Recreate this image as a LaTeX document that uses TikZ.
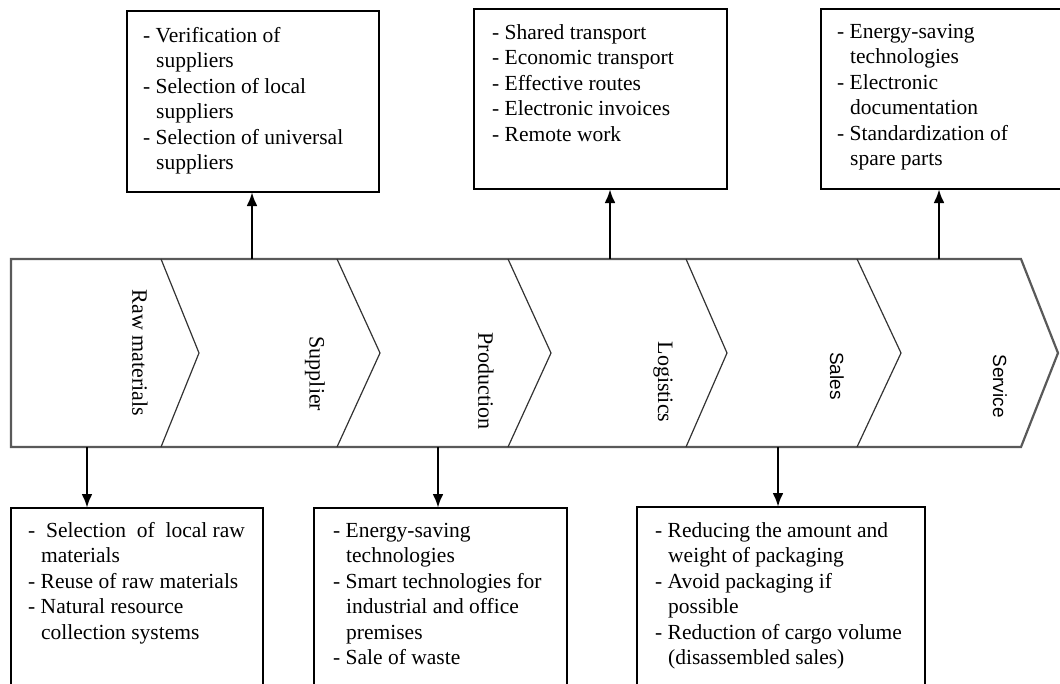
\documentclass[tikz,border=0pt]{standalone}
\usepackage{fontspec}
\setmainfont{Liberation Serif}
\newfontfamily\stagesans{Liberation Sans}
\usetikzlibrary{arrows.meta}

\newcommand{\wrapin}{\hspace*{13pt}}

\tikzset{
  stage/.style={draw=black!80, line width=1.2pt},
  stageedge/.style={draw=black!65, line width=2.2pt},
  stagelabel/.style={rotate=-90, inner sep=0pt, font=\fontsize{22}{26}\selectfont},
  stagelabelsf/.style={stagelabel, font=\stagesans\fontsize{19}{23}\selectfont},
  infobox/.style={draw, line width=1.8pt, anchor=north west, inner sep=0pt, outer sep=0pt},
  infotext/.style={anchor=north west, align=left, inner sep=0pt, font=\fontsize{21.5}{25.5}\selectfont},
  link/.style={line width=2.8pt, -{Latex[length=14pt,width=11pt]}}
}

\begin{document}
\begin{tikzpicture}[x=1pt, y=-1pt]
  \useasboundingbox (0,0) rectangle (1060,683);
  \clip (0,0) rectangle (1060,683);

  % value chain band
  \draw[stageedge] (11,259) -- (1021,259) -- (1058,353) -- (1021,447) -- (11,447) -- cycle;
  \foreach \b/\p in {161/199, 337/380, 508/551, 686/727, 857/901}
    \draw[stage] (\b,259) -- (\p,353) -- (\b,447);

  \node[stagelabel] (raw) at (140,353) {Raw materials};
  \node[stagelabel] (sup) at (315,374) {Supplier};
  \node[stagelabel] (prod) at (486,381) {Production};
  \node[stagelabel] (log) at (663,382) {Logistics};
  \node[stagelabelsf] (sales) at (837,376) {Sales};
  \node[stagelabelsf] (svc) at (1000,386) {Service};

  \coordinate (supfoot) at (252,259);
  \coordinate (logfoot) at (610,259);
  \coordinate (svcfoot) at (939,259);
  \coordinate (rawfoot) at (87,447);
  \coordinate (prodfoot) at (438,447);
  \coordinate (salesfoot) at (778,447);

  % measures above
  \node[infobox, minimum width=252pt, minimum height=181pt] (supbox) at (127,11) {};
  \node[infobox, minimum width=253pt, minimum height=180pt] (logbox) at (474,9) {};
  \node[infobox, minimum width=260pt, minimum height=180pt] (svcbox) at (821,9) {};

  \node[infotext] (suptext) at (143,27) {- Verification of\\\wrapin suppliers\\- Selection of local\\\wrapin suppliers\\- Selection of universal\\\wrapin suppliers};
  \node[infotext] (logtext) at (492,24) {- Shared transport\\- Economic transport\\- Effective routes\\- Electronic invoices\\- Remote work};
  \node[infotext] (svctext) at (837,24) {- Energy-saving\\\wrapin technologies\\- Electronic\\\wrapin documentation\\- Standardization of\\\wrapin spare parts};

  % measures below
  \node[infobox, minimum width=252pt, minimum height=200pt] (rawbox) at (11,508) {};
  \node[infobox, minimum width=253pt, minimum height=200pt] (prodbox) at (314,508) {};
  \node[infobox, minimum width=288pt, minimum height=200pt] (salesbox) at (637,507) {};

  \node[infotext] (rawtext) at (28,522) {-\ \ Selection\ \ of\ \ local raw\\\wrapin materials\\- Reuse of raw materials\\- Natural resource\\\wrapin collection systems};
  \node[infotext] (prodtext) at (333,523) {- Energy-saving\\\wrapin technologies\\- Smart technologies for\\\wrapin industrial and office\\\wrapin premises\\- Sale of waste};
  \node[infotext] (salestext) at (655,522) {- Reducing the amount and\\\wrapin weight of packaging\\- Avoid packaging if\\\wrapin possible\\- Reduction of cargo volume\\\wrapin (disassembled sales)};

  \draw[link] (supfoot) -- (supfoot |- supbox.south);
  \draw[link] (logfoot) -- (logfoot |- logbox.south);
  \draw[link] (svcfoot) -- (svcfoot |- svcbox.south);
  \draw[link] (rawfoot) -- (rawfoot |- rawbox.north);
  \draw[link] (prodfoot) -- (prodfoot |- prodbox.north);
  \draw[link] (salesfoot) -- (salesfoot |- salesbox.north);
\end{tikzpicture}
\end{document}
